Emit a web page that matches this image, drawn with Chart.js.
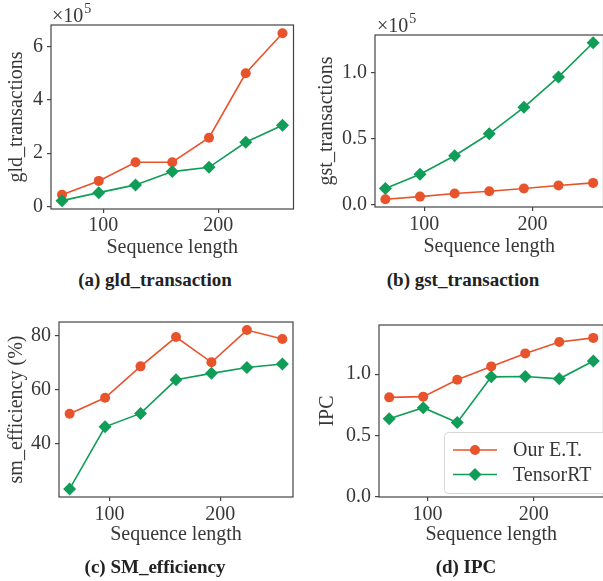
<!DOCTYPE html>
<html>
<head>
<meta charset="utf-8">
<script src="https://cdn.jsdelivr.net/npm/chart.js@4.4.1/dist/chart.umd.min.js"></script>
<style>
  body { margin: 0; background: #fff; }
  #page { position: relative; width: 603px; height: 581px; overflow: hidden; background: #fff; }
  #page canvas { position: absolute; }
  .cap { position: absolute; font: bold 19px "Liberation Serif", serif; color: #222;
         transform: translate(-50%, -50%); white-space: nowrap; }
</style>
</head>
<body>
<div id="page">
  <canvas id="ca" width="300" height="262" style="left:0;top:0"></canvas>
  <canvas id="cb" width="310" height="262" style="left:300px;top:0"></canvas>
  <canvas id="cc" width="300" height="262" style="left:0;top:300px"></canvas>
  <canvas id="cd" width="310" height="262" style="left:300px;top:300px"></canvas>
  <div class="cap" style="left:155px;top:280px">(a) gld_transaction</div>
  <div class="cap" style="left:463px;top:280px">(b) gst_transaction</div>
  <div class="cap" style="left:155px;top:567px">(c) SM_efficiency</div>
  <div class="cap" style="left:466px;top:567px">(d) IPC</div>
</div>
<script>
// data
const seqLen = [64, 96, 128, 160, 192, 224, 256];
const seriesNames = ['Our E.T.', 'TensorRT'];

const gldOurs = [44000, 96000, 166000, 166000, 258000, 500000, 650000];
const gldTrt  = [22000, 52000, 81000, 131000, 147000, 241000, 305000];
const gstOurs = [4100, 6100, 8400, 10200, 12200, 14500, 16500];
const gstTrt  = [12200, 23100, 37100, 53800, 73900, 97000, 122900];
const smOurs  = [51.1, 57.0, 68.7, 79.6, 70.2, 82.2, 78.9];
const smTrt   = [23.1, 46.2, 51.2, 63.7, 66.1, 68.3, 69.6];
const ipcOurs = [0.811, 0.817, 0.954, 1.063, 1.169, 1.262, 1.295];
const ipcTrt  = [0.637, 0.727, 0.607, 0.978, 0.981, 0.962, 1.107];

const xTicks = [100, 200];
const gldTicks = [0, 200000, 400000, 600000];
const gldTickLabels = ['0', '2', '4', '6'];
const gstTicks = [0, 50000, 100000];
const gstTickLabels = ['0.0', '0.5', '1.0'];
const smTicks = [40, 60, 80];
const smTickLabels = ['40', '60', '80'];
const ipcTicks = [0, 0.5, 1.0];
const ipcTickLabels = ['0.0', '0.5', '1.0'];

const ORANGE = '#e8532b';
const GREEN = '#0f9d58';
const INK = '#383838';
const SPINE = '#444';
const FONT = '"Liberation Serif", serif';

// full box round the plot, like matplotlib spines
const framePlugin = {
  id: 'frame',
  afterDatasetsDraw(chart) {
    const a = chart.chartArea, ctx = chart.ctx;
    ctx.save();
    ctx.strokeStyle = SPINE;
    ctx.lineWidth = 1.2;
    ctx.strokeRect(a.left, a.top, a.right - a.left, a.bottom - a.top);
    ctx.restore();
  }
};

function offsetTextPlugin(x, y) {
  return {
    id: 'offsetText',
    afterDraw(chart) {
      const ctx = chart.ctx;
      ctx.save();
      ctx.fillStyle = INK;
      ctx.textBaseline = 'alphabetic';
      ctx.font = '20px ' + FONT;
      ctx.fillText('\u00d710', x, y);
      const w = ctx.measureText('\u00d710').width;
      ctx.font = '14px ' + FONT;
      ctx.fillText('5', x + w + 1, y - 9);
      ctx.restore();
    }
  };
}

const legendPlugin = {
  id: 'boxLegend',
  afterDraw(chart) {
    const ctx = chart.ctx;
    const bx = 144, by = 132, bw = 170, bh = 61;
    ctx.save();
    ctx.fillStyle = 'rgba(255,255,255,0.85)';
    ctx.strokeStyle = '#d6d6d6';
    ctx.lineWidth = 1;
    ctx.beginPath();
    ctx.roundRect(bx + 0.5, by + 0.5, bw, bh, 4);
    ctx.fill();
    ctx.stroke();
    chart.data.datasets.forEach((ds, i) => {
      const y = by + 18 + i * 24.5;
      ctx.strokeStyle = ds.borderColor;
      ctx.lineWidth = ds.borderWidth;
      ctx.beginPath();
      ctx.moveTo(bx + 9, y);
      ctx.lineTo(bx + 53, y);
      ctx.stroke();
      ctx.fillStyle = ds.backgroundColor;
      Chart.helpers.drawPoint(ctx, { pointStyle: ds.pointStyle, radius: ds.pointRadius, borderWidth: 0 }, bx + 31, y);
      ctx.fillStyle = INK;
      ctx.font = '20px ' + FONT;
      ctx.textBaseline = 'middle';
      ctx.fillText(ds.label, bx + 69, y + 1);
    });
    ctx.restore();
  }
};

function makePanel(p) {
  const tickFont = { family: FONT, size: 20 };
  const datasets = [
    { label: seriesNames[0], data: seqLen.map((x, i) => ({ x: x, y: p.ours[i] })),
      borderColor: ORANGE, backgroundColor: ORANGE, borderWidth: 1.6,
      pointStyle: 'circle', pointRadius: 5, pointBorderWidth: 0, order: 1 },
    { label: seriesNames[1], data: seqLen.map((x, i) => ({ x: x, y: p.trt[i] })),
      borderColor: GREEN, backgroundColor: GREEN, borderWidth: 1.6,
      pointStyle: 'rectRot', pointRadius: 6.5, pointBorderWidth: 0, order: 0 }
  ];
  const plugins = [framePlugin];
  if (p.offset) plugins.push(offsetTextPlugin(p.offset[0], p.offset[1]));
  if (p.legend) plugins.push(legendPlugin);

  new Chart(document.getElementById(p.id), {
    type: 'line',
    data: { datasets: datasets },
    options: {
      responsive: false,
      animation: false,
      devicePixelRatio: 1,
      layout: { padding: { top: p.top, right: p.right, left: 0, bottom: 0 } },
      plugins: { legend: { display: false }, tooltip: { enabled: false } },
      scales: {
        x: {
          type: 'linear', min: 54.4, max: 265.6,
          afterFit: s => { s.height = p.xh; },
          afterBuildTicks: s => { s.ticks = xTicks.map(v => ({ value: v })); },
          grid: { drawOnChartArea: false, tickLength: 4, color: SPINE, lineWidth: 1.2 },
          border: { display: false },
          ticks: { font: tickFont, color: INK, padding: p.xtp, maxRotation: 0, autoSkip: false },
          title: { display: true, text: 'Sequence length', font: tickFont, color: INK,
                   padding: { top: 0, bottom: p.xtitle } }
        },
        y: {
          type: 'linear', min: p.ymin, max: p.ymax,
          afterFit: s => { s.width = p.yw; },
          afterBuildTicks: s => { s.ticks = p.yTicks.map(v => ({ value: v })); },
          grid: { drawOnChartArea: false, tickLength: 4, color: SPINE, lineWidth: 1.2 },
          border: { display: false },
          ticks: { font: tickFont, color: INK, padding: 4, autoSkip: false,
                   callback: (v, i) => p.yLabels[i] },
          title: { display: true, text: p.yTitle, font: tickFont, color: INK,
                   padding: { top: p.ytitle, bottom: 0 } }
        }
      }
    },
    plugins: plugins
  });
}

makePanel({ id: 'ca', ours: gldOurs, trt: gldTrt, ymin: -9400, ymax: 681000,
  yTicks: gldTicks, yLabels: gldTickLabels, yTitle: 'gld_transactions',
  top: 25, right: 4, yw: 51, xh: 53, xtp: 1, xtitle: 2, ytitle: 5, offset: [52, 22] });
makePanel({ id: 'cb', ours: gstOurs, trt: gstTrt, ymin: -1800, ymax: 128800,
  yTicks: gstTicks, yLabels: gstTickLabels, yTitle: 'gst_transactions',
  top: 35, right: 5, yw: 75, xh: 55, xtp: 2, xtitle: 3, ytitle: 15, offset: [77, 32] });
makePanel({ id: 'cc', ours: smOurs, trt: smTrt, ymin: 20.1, ymax: 85.2,
  yTicks: smTicks, yLabels: smTickLabels, yTitle: 'sm_efficiency (%)',
  top: 22, right: 7, yw: 59, xh: 65, xtp: 2, xtitle: 15, ytitle: 5 });
makePanel({ id: 'cd', ours: ipcOurs, trt: ipcTrt, ymin: 0, ymax: 1.4,
  yTicks: ipcTicks, yLabels: ipcTickLabels, yTitle: 'IPC',
  top: 25, right: 3, yw: 79, xh: 65, xtp: 2, xtitle: 15, ytitle: 16, legend: true });
</script>
</body>
</html>
